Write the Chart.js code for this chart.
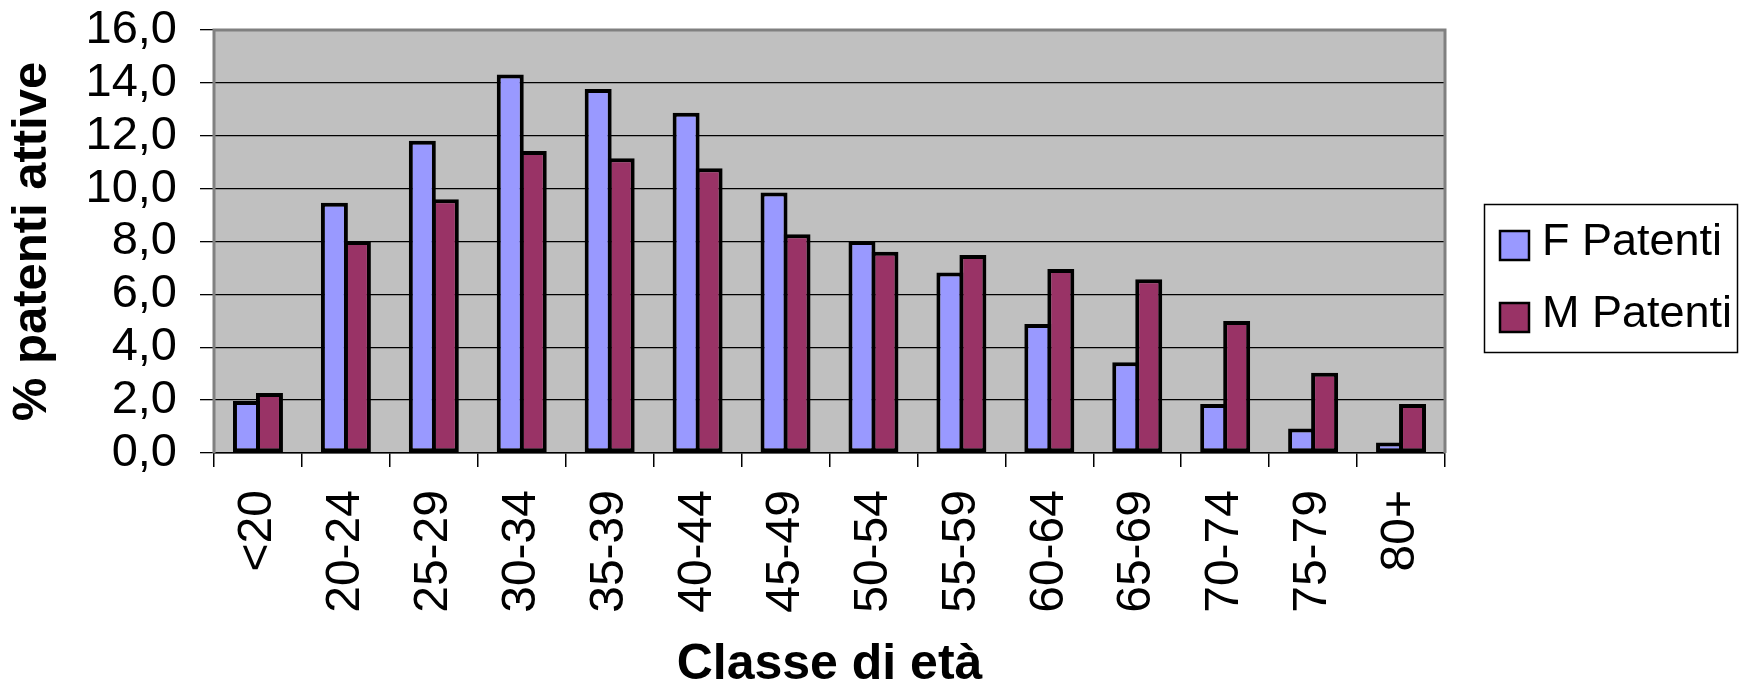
<!DOCTYPE html>
<html lang="it">
<head>
<meta charset="UTF-8">
<title>Patenti attive per classe di età</title>
<script src="https://cdn.jsdelivr.net/npm/chart.js"></script>
<style>
  body { margin: 0; background: #fff; }
  #wrap { width: 1740px; height: 685px; }
</style>
</head>
<body>
<div id="wrap"><canvas id="grafico" width="1740" height="685"></canvas></div>
<script>
// dati
const classi = ['<20', '20-24', '25-29', '30-34', '35-39', '40-44', '45-49', '50-54', '55-59', '60-64', '65-69', '70-74', '75-79', '80+'];
const femmine = [1.97, 9.47, 11.81, 14.32, 13.77, 12.87, 9.85, 8.02, 6.83, 4.88, 3.43, 1.85, 0.93, 0.40];
const maschi = [2.27, 8.02, 9.60, 11.42, 11.15, 10.77, 8.27, 7.61, 7.49, 6.96, 6.57, 4.99, 3.04, 1.85];
const etichetteSerie = ['F Patenti', 'M Patenti'];
const yMin = 0, yMax = 16, yPasso = 2;

const FONT = "'Liberation Sans', Arial, sans-serif";

// sfondo grigio e cornice dell'area del grafico
const sfondoArea = {
    id: 'sfondoArea',
    beforeDraw(chart) {
        const { ctx, chartArea: a } = chart;
        ctx.save();
        ctx.fillStyle = '#C0C0C0';
        ctx.fillRect(a.left, a.top, a.right - a.left, a.bottom - a.top);
        ctx.restore();
    },
    afterDraw(chart) {
        const { ctx, chartArea: a } = chart;
        ctx.save();
        ctx.strokeStyle = '#808080';
        ctx.lineWidth = 3;
        ctx.beginPath();
        ctx.moveTo(a.left, a.bottom);
        ctx.lineTo(a.left, a.top);
        ctx.lineTo(a.right, a.top);
        ctx.lineTo(a.right, a.bottom);
        ctx.stroke();
        ctx.restore();
    }
};

// legenda con riquadro, come in Excel
const legendaBox = {
    id: 'legendaBox',
    afterDraw(chart) {
        const ctx = chart.ctx;
        ctx.save();
        ctx.strokeStyle = '#000';
        ctx.lineWidth = 1.5;
        ctx.strokeRect(1484.5, 204.5, 253, 148);
        ctx.font = '45px ' + FONT;
        chart.data.datasets.forEach((ds, i) => {
            const y = 231 + i * 72;
            ctx.fillStyle = ds.backgroundColor;
            ctx.fillRect(1500, y, 29, 29);
            ctx.lineWidth = 2.5;
            ctx.strokeRect(1500, y, 29, 29);
            ctx.fillStyle = '#000';
            ctx.fillText(ds.label, 1542, y + 24);
        });
        ctx.restore();
    }
};

new Chart(document.getElementById('grafico'), {
    type: 'bar',
    data: {
        labels: classi,
        datasets: [{
            label: etichetteSerie[0],
            data: femmine,
            backgroundColor: '#9999FF',
            borderColor: '#000',
            borderWidth: 4,
            borderSkipped: false
        }, {
            label: etichetteSerie[1],
            data: maschi,
            backgroundColor: '#993366',
            borderColor: '#000',
            borderWidth: 4,
            borderSkipped: false
        }]
    },
    options: {
        responsive: false,
        animation: false,
        devicePixelRatio: 1,
        categoryPercentage: 0.523,
        barPercentage: 1.174,
        layout: { padding: { top: 30, right: 295, left: 0, bottom: 0 } },
        plugins: {
            legend: { display: false },
            tooltip: { enabled: false }
        },
        scales: {
            x: {
                afterFit(scale) { scale.height = 232; },
                grid: {
                    offset: true,
                    drawOnChartArea: false,
                    tickLength: 14,
                    color: '#000',
                    lineWidth: 1.5
                },
                border: { color: '#000', width: 1.5 },
                ticks: {
                    autoSkip: false,
                    minRotation: 90,
                    maxRotation: 90,
                    padding: 23,
                    color: '#000',
                    font: { family: FONT, size: 48 }
                },
                title: {
                    display: true,
                    text: 'Classe di età',
                    color: '#000',
                    font: { family: FONT, size: 50, weight: 'bold', lineHeight: 0.8 },
                    padding: { top: 0, bottom: 0 }
                }
            },
            y: {
                min: yMin,
                max: yMax,
                afterFit(scale) {
                    scale.width = 214;
                    scale.paddingTop = 0;
                    scale.paddingBottom = 0;
                },
                grid: {
                    tickLength: 14,
                    color: '#000',
                    lineWidth: 1.3
                },
                border: { display: false },
                ticks: {
                    autoSkip: false,
                    stepSize: yPasso,
                    padding: 23,
                    color: '#000',
                    font: { family: FONT, size: 47 },
                    callback: v => v.toFixed(1).replace('.', ',')
                },
                title: {
                    display: true,
                    text: '% patenti attive',
                    color: '#000',
                    font: { family: FONT, size: 49, weight: 'bold', lineHeight: 1 },
                    padding: { top: 8, bottom: 0 }
                }
            }
        }
    },
    plugins: [sfondoArea, legendaBox]
});
</script>
</body>
</html>
